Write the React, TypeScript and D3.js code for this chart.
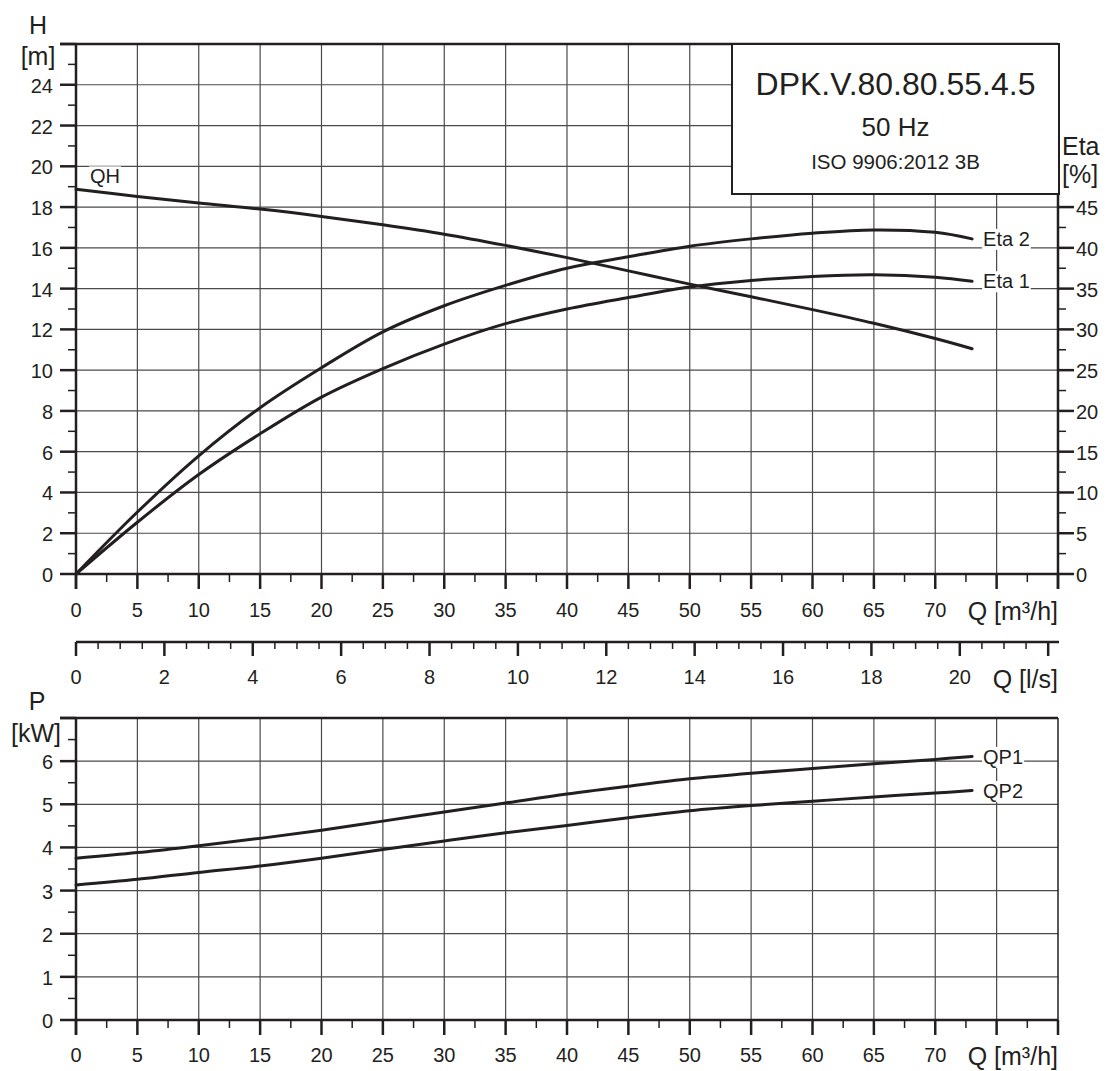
import React, { useEffect, useRef } from 'react';
import * as d3 from 'd3';

// ---- data ----
const Q = [0, 5, 10, 15, 20, 25, 30, 35, 40, 45, 50, 55, 60, 65, 70, 73];
const QH = [18.87, 18.52, 18.2, 17.9, 17.54, 17.13, 16.67, 16.12, 15.52, 14.87, 14.22, 13.6, 12.97, 12.3, 11.55, 11.05];
const ETA2 = [0, 7.6, 14.5, 20.4, 25.3, 29.7, 32.9, 35.4, 37.5, 38.9, 40.2, 41.1, 41.8, 42.2, 41.9, 41.1];
const ETA1 = [0, 6.35, 12.2, 17.2, 21.7, 25.2, 28.2, 30.7, 32.5, 33.9, 35.2, 36.0, 36.5, 36.7, 36.4, 35.9];
const QP1 = [3.75, 3.88, 4.04, 4.21, 4.4, 4.61, 4.82, 5.03, 5.24, 5.42, 5.59, 5.72, 5.83, 5.94, 6.04, 6.11];
const QP2 = [3.13, 3.26, 3.42, 3.57, 3.75, 3.95, 4.15, 4.34, 4.51, 4.69, 4.85, 4.97, 5.07, 5.17, 5.26, 5.32];

const Q_LABELS = [0, 5, 10, 15, 20, 25, 30, 35, 40, 45, 50, 55, 60, 65, 70];
const LS_LABELS = [0, 2, 4, 6, 8, 10, 12, 14, 16, 18, 20];
const H_LABELS = [0, 2, 4, 6, 8, 10, 12, 14, 16, 18, 20, 22, 24];
const ETA_LABELS = [0, 5, 10, 15, 20, 25, 30, 35, 40, 45];
const P_LABELS = [0, 1, 2, 3, 4, 5, 6];

const TITLE = 'DPK.V.80.80.55.4.5';
const FREQ = '50 Hz';
const STANDARD = 'ISO 9906:2012 3B';

const INK = '#231f20';
const GRID = '#4a4a4a';
const FONT = '"Liberation Sans", Arial, Helvetica, sans-serif';

export default function App() {
  const ref = useRef<SVGSVGElement>(null);

  useEffect(() => {
    const svg = d3.select(ref.current);
    svg.selectAll('*').remove();
    svg.append('rect').attr('width', 1120).attr('height', 1071).attr('fill', '#fff');

    const L = 76, R = 1058;
    const x = d3.scaleLinear().domain([0, 80]).range([L, R]);
    const xLs = d3.scaleLinear().domain([0, 80 / 3.6]).range([L, R]);
    const yH = d3.scaleLinear().domain([0, 26]).range([574, 44]);
    const yEta = d3.scaleLinear().domain([0, 65]).range([574, 44]);
    const yP = d3.scaleLinear().domain([0, 7]).range([1020, 718]);

    const g = svg.append('g').attr('font-family', FONT).attr('fill', INK);

    const line = (x1: number, y1: number, x2: number, y2: number, w: number, c = INK) =>
      g.append('line').attr('x1', x1).attr('y1', y1).attr('x2', x2).attr('y2', y2)
        .attr('stroke', c).attr('stroke-width', w);

    const text = (t: string, tx: number, ty: number, size: number, anchor = 'start') =>
      g.append('text').attr('x', tx).attr('y', ty).attr('font-size', size)
        .attr('text-anchor', anchor).attr('fill', INK).text(t);

    // ---- grid: top chart ----
    d3.range(5, 80, 5).forEach(v => line(x(v), yH(26), x(v), yH(0), 1.2, GRID));
    d3.range(2, 26, 2).forEach(v => line(L, yH(v), R, yH(v), 1.2, GRID));
    // ---- grid: bottom chart ----
    d3.range(5, 80, 5).forEach(v => line(x(v), yP(7), x(v), yP(0), 1.2, GRID));
    d3.range(1, 7, 1).forEach(v => line(L, yP(v), R, yP(v), 1.2, GRID));

    // ---- curves ----
    const curve = (ys: number[], sy: d3.ScaleLinear<number, number>) => {
      const gen = d3.line<number>()
        .x((_, i) => x(Q[i]))
        .y(d => sy(d))
        .curve(d3.curveCatmullRom.alpha(0.5));
      g.append('path').attr('d', gen(ys)).attr('fill', 'none')
        .attr('stroke', INK).attr('stroke-width', 3).attr('stroke-linecap', 'round');
    };
    curve(QH, yH);
    curve(ETA2, yEta);
    curve(ETA1, yEta);
    curve(QP1, yP);
    curve(QP2, yP);

    // ---- curve labels with white backgrounds ----
    const label = (t: string, tx: number, ty: number) => {
      const bg = g.append('rect').attr('fill', '#fff');
      const tn = text(t, tx, ty, 20);
      const bb = (tn.node() as SVGTextElement).getBBox();
      bg.attr('x', bb.x - 1).attr('y', bb.y + 1).attr('width', bb.width + 2).attr('height', bb.height - 1);
    };
    const last = Q.length - 1;
    label('QH', x(0) + 14, yH(QH[0]) - 6);
    label('Eta 2', x(Q[last]) + 11, yEta(ETA2[last]) + 7);
    label('Eta 1', x(Q[last]) + 11, yEta(ETA1[last]) + 7);
    label('QP1', x(Q[last]) + 11, yP(QP1[last]) + 7.5);
    label('QP2', x(Q[last]) + 11, yP(QP2[last]) + 7.5);

    // ---- top chart axes ----
    const AX = 2.5;
    line(L, 44, L, 589, AX);
    line(60, yH(0), R, yH(0), AX);
    line(60, 44, R, 44, AX);
    line(R, 44, R, 589, AX);
    d3.range(1, 27, 1).forEach(v => {
      const major = v % 2 === 0;
      line(L - (major ? 16 : 8), yH(v), L, yH(v), major ? 2.5 : 1.5);
    });
    d3.range(0, 46, 2.5).forEach(v => {
      const major = v % 5 === 0;
      line(R, yEta(v), R + (major ? 16 : 8), yEta(v), major ? 2.5 : 1.5);
    });
    d3.range(0, 80.1, 2.5).forEach(v => {
      const major = v % 5 === 0;
      line(x(v), yH(0), x(v), yH(0) + (major ? 15 : 8), major ? 2.5 : 1.5);
    });
    H_LABELS.forEach(v => text(String(v), 53, yH(v) + 8, 20, 'end'));
    ETA_LABELS.forEach(v => text(String(v), R + 18, yEta(v) + 8, 20, 'start'));
    Q_LABELS.forEach(v => text(String(v), x(v), 617, 20, 'middle'));
    text('H', 38, 34, 25, 'middle');
    text('[m]', 38, 65, 25, 'middle');
    text('Q [m³/h]', R, 620, 25, 'end');

    // ---- l/s axis ----
    line(L, 642, R + 1, 642, AX);
    d3.range(0, 22.01, 0.5).forEach(v => {
      const major = v % 2 === 0;
      line(xLs(v), 642, xLs(v), 642 + (major ? 14 : 7), major ? 2.5 : 1.5);
    });
    LS_LABELS.forEach(v => text(String(v), xLs(v), 684, 20, 'middle'));
    text('Q [l/s]', R, 688, 25, 'end');

    // ---- bottom chart axes ----
    line(L, yP(7), L, 1035, AX);
    line(60, yP(0), R, yP(0), AX);
    line(60, yP(7), R, yP(7), AX);
    line(R, yP(7), R, yP(0), 1.5);
    d3.range(0.5, 7.01, 0.5).forEach(v => {
      const major = v % 1 === 0;
      line(L - (major ? 16 : 8), yP(v), L, yP(v), major ? 2.5 : 1.5);
    });
    d3.range(0, 80.1, 2.5).forEach(v => {
      const major = v % 5 === 0;
      line(x(v), yP(0), x(v), yP(0) + (major ? 15 : 8), major ? 2.5 : 1.5);
    });
    P_LABELS.forEach(v => text(String(v), 53, yP(v) + 8, 20, 'end'));
    Q_LABELS.forEach(v => text(String(v), x(v), 1062, 20, 'middle'));
    text('P', 37, 710, 25, 'middle');
    text('[kW]', 36, 742, 25, 'middle');
    text('Q [m³/h]', R, 1065, 25, 'end');

    // ---- eta axis title ----
    text('Eta', 1062, 155, 25, 'start');
    text('[%]', 1062, 183, 25, 'start');

    // ---- title box ----
    g.append('rect').attr('x', 732).attr('y', 44).attr('width', 327).attr('height', 150)
      .attr('fill', '#fff').attr('stroke', INK).attr('stroke-width', 2);
    text(TITLE, 895.5, 95, 32, 'middle');
    text(FREQ, 895.5, 136, 26, 'middle');
    text(STANDARD, 895.5, 169, 20.5, 'middle');
  }, []);

  return (
    <svg
      ref={ref}
      width={1120}
      height={1071}
      style={{ position: 'absolute', left: 0, top: 0, display: 'block' }}
    />
  );
}
